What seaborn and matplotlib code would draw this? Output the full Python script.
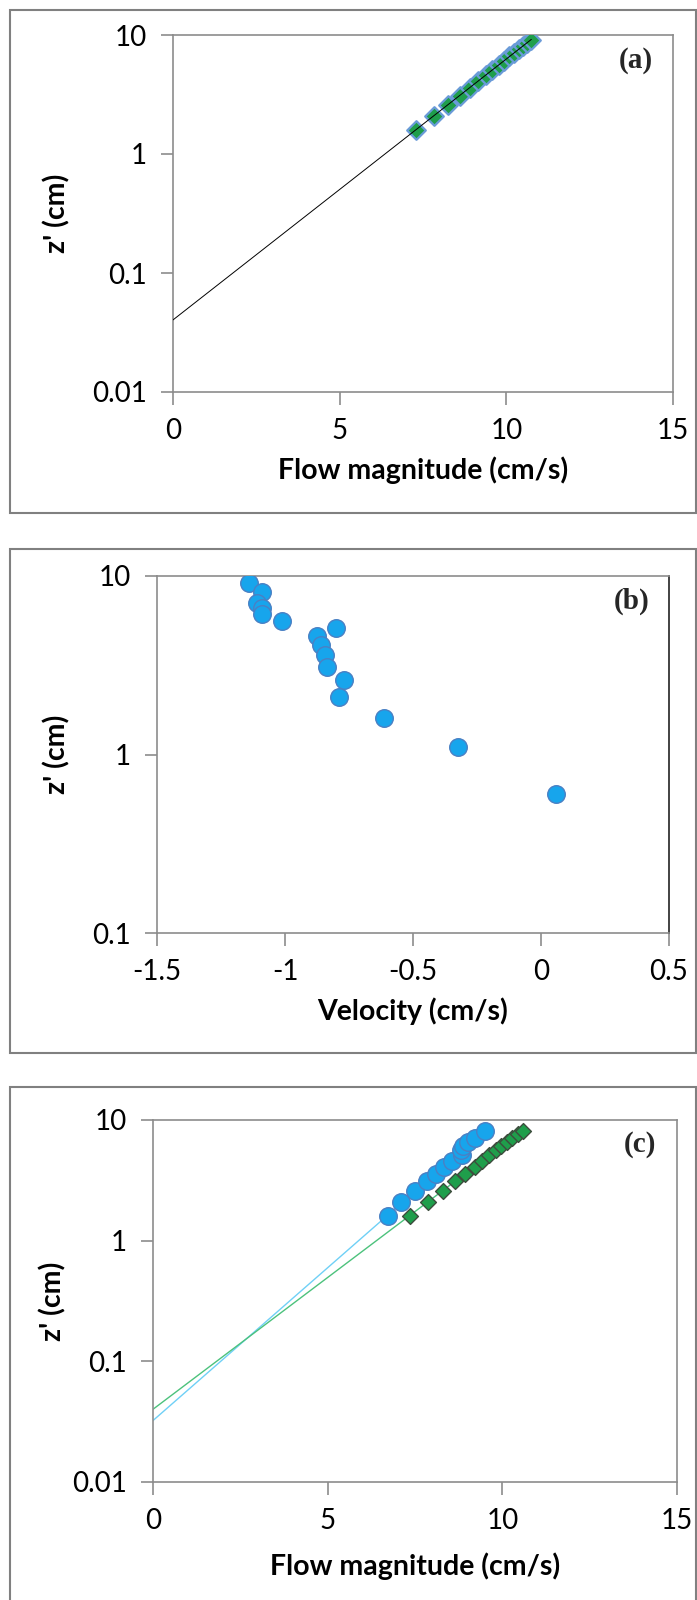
import numpy as np
import pandas as pd
import matplotlib
matplotlib.use("Agg")
import matplotlib.pyplot as plt
from matplotlib.patches import Rectangle
from matplotlib.ticker import NullLocator
import seaborn as sns

# --- datos ---
Z_A = [1.6, 2.1, 2.6, 3.1, 3.6, 4.1, 4.6, 5.1, 5.6, 6.1, 6.6, 7.1, 7.6, 8.1, 8.6, 9.1]
U_A = [7.30, 7.82, 8.25, 8.60, 8.90, 9.15, 9.38, 9.58, 9.77, 9.94, 10.09, 10.24, 10.37, 10.50, 10.62, 10.75]

Z_B = [9.1, 8.1, 7.1, 6.6, 6.1, 5.6, 5.1, 4.6, 4.1, 3.6, 3.1, 2.6, 2.1, 1.6, 1.1, 0.6]
V_B = [-1.14, -1.09, -1.11, -1.09, -1.09, -1.01, -0.80, -0.875, -0.86, -0.845, -0.835, -0.77, -0.79, -0.615, -0.325, 0.06]

Z_C_AZUL = [1.6, 2.1, 2.6, 3.1, 3.6, 4.1, 4.6, 5.1, 5.6, 6.1, 6.6, 7.1, 8.1]
U_C_AZUL = [6.72, 7.09, 7.51, 7.83, 8.11, 8.32, 8.56, 8.85, 8.83, 8.88, 9.02, 9.21, 9.49]
Z_C_VERDE = [1.6, 2.1, 2.6, 3.1, 3.6, 4.1, 4.6, 5.1, 5.6, 6.1, 6.6, 7.1, 7.6, 8.1]
U_C_VERDE = [7.35, 7.86, 8.30, 8.65, 8.94, 9.21, 9.42, 9.62, 9.81, 9.97, 10.13, 10.29, 10.44, 10.60]

Y_TICKS_FLOW = [0.01, 0.1, 1, 10]
Y_LABELS_FLOW = ["0.01", "0.1", "1", "10"]
Y_TICKS_VEL = [0.1, 1, 10]
Y_LABELS_VEL = ["0.1", "1", "10"]
X_TICKS_FLOW = [0, 5, 10, 15]
X_LABELS_FLOW = ["0", "5", "10", "15"]
X_TICKS_VEL = [-1.5, -1, -0.5, 0, 0.5]
X_LABELS_VEL = ["-1.5", "-1", "-0.5", "0", "0.5"]

W, H = 697, 1600
GRIS = "#8c8c8c"
VERDE = "#1f9e4b"
AZUL = "#17a5ec"

sns.set_theme(style="white")
plt.rcParams["font.family"] = ["Lato", "DejaVu Sans"]


def ajuste_exp(u, z):
    # trendline exponencial (ln z lineal en u), extendida hasta u = 0
    b, a = np.polyfit(u, np.log(z), 1)
    xs = np.linspace(0, max(u), 200)
    return pd.DataFrame({"u": xs, "z": np.exp(a + b * xs)})


def crear_ejes(fig, izq, der, arriba, abajo):
    ax = fig.add_axes([izq / W, 1 - abajo / H, (der - izq) / W, (abajo - arriba) / H])
    ax.caja = (izq, der, arriba, abajo)
    return ax


def estilo(ax, xt, xl, yt, yl, xlim, ylim, xlabel, etiqueta, ylab_x, xlab_dy):
    izq, der, arriba, abajo = ax.caja
    ax.set_yscale("log")
    ax.set_xlim(*xlim)
    ax.set_ylim(*ylim)
    ax.set_xticks(xt)
    ax.set_xticklabels(xl)
    ax.set_yticks(yt)
    ax.set_yticklabels(yl)
    ax.yaxis.set_minor_locator(NullLocator())
    for s in ax.spines.values():
        s.set_color(GRIS)
        s.set_linewidth(1.2)
    ax.tick_params(axis="both", which="major", direction="out", length=9, width=1.2,
                   color=GRIS, labelsize=20, labelcolor="black", pad=10,
                   bottom=True, left=True)
    ax.set_xlabel(xlabel, fontsize=20.5, fontweight="bold", color="black")
    ax.set_ylabel("z' (cm)", fontsize=20.5, fontweight="bold", color="black")
    ax.xaxis.set_label_coords(0.5, -xlab_dy / (abajo - arriba))
    ax.yaxis.set_label_coords((ylab_x - izq) / (der - izq), 0.5)
    ax.annotate(etiqueta, xy=(1, 1), xycoords="axes fraction", xytext=(-37, -25),
                textcoords="offset pixels", ha="center", va="center",
                fontsize=21, fontweight="bold", family="Liberation Serif")
    ax.grid(False)


fig = plt.figure(figsize=(W / 100, H / 100), dpi=100)

# recuadros de cada panel
for y0, y1 in [(10, 513), (549, 1053), (1087, 1610)]:
    fig.add_artist(Rectangle((10 / W, 1 - y1 / H), (696 - 10) / W, (y1 - y0) / H,
                             transform=fig.transFigure, fill=False, ec="#808080", lw=1.5))

# --- (a) ---
ax_a = crear_ejes(fig, 173, 673, 35, 392)
sns.scatterplot(x=U_A, y=Z_A, ax=ax_a, marker="D", s=90, color=VERDE,
                edgecolor="#6a9bd8", linewidth=1.6, zorder=3, legend=False)
lin_a = ajuste_exp(U_A, Z_A)
sns.lineplot(data=lin_a, x="u", y="z", ax=ax_a, color="black", linewidth=0.7, zorder=4)
estilo(ax_a, X_TICKS_FLOW, X_LABELS_FLOW, Y_TICKS_FLOW, Y_LABELS_FLOW,
       (0, 15), (0.01, 10), "Flow magnitude (cm/s)", "(a)", 70, 64)

# --- (b) ---
ax_b = crear_ejes(fig, 157, 669, 576, 933)
sns.scatterplot(x=V_B, y=Z_B, ax=ax_b, marker="o", s=160, color=AZUL,
                edgecolor="#4a80c4", linewidth=1.0, zorder=3, legend=False)
estilo(ax_b, X_TICKS_VEL, X_LABELS_VEL, Y_TICKS_VEL, Y_LABELS_VEL,
       (-1.5, 0.5), (0.1, 10), "Velocity (cm/s)", "(b)", 70, 64)
ax_b.spines["right"].set_color("#222222")

# --- (c) ---
ax_c = crear_ejes(fig, 153, 677, 1120, 1482)
lin_c_azul = ajuste_exp(U_C_AZUL, Z_C_AZUL)
lin_c_verde = ajuste_exp(U_C_VERDE, Z_C_VERDE)
sns.lineplot(data=lin_c_azul, x="u", y="z", ax=ax_c, color="#6fd0f6", linewidth=1.0, zorder=2)
sns.lineplot(data=lin_c_verde, x="u", y="z", ax=ax_c, color="#4cc27c", linewidth=1.0, zorder=2)
sns.scatterplot(x=U_C_AZUL, y=Z_C_AZUL, ax=ax_c, marker="o", s=160, color=AZUL,
                edgecolor="#4a80c4", linewidth=1.0, zorder=3, legend=False)
sns.scatterplot(x=U_C_VERDE, y=Z_C_VERDE, ax=ax_c, marker="D", s=65, color=VERDE,
                edgecolor="#3d4d3d", linewidth=1.0, zorder=3, legend=False)
estilo(ax_c, X_TICKS_FLOW, X_LABELS_FLOW, Y_TICKS_FLOW, Y_LABELS_FLOW,
       (0, 15), (0.01, 10), "Flow magnitude (cm/s)", "(c)", 66, 70)

fig.savefig("out.png", dpi=100)
